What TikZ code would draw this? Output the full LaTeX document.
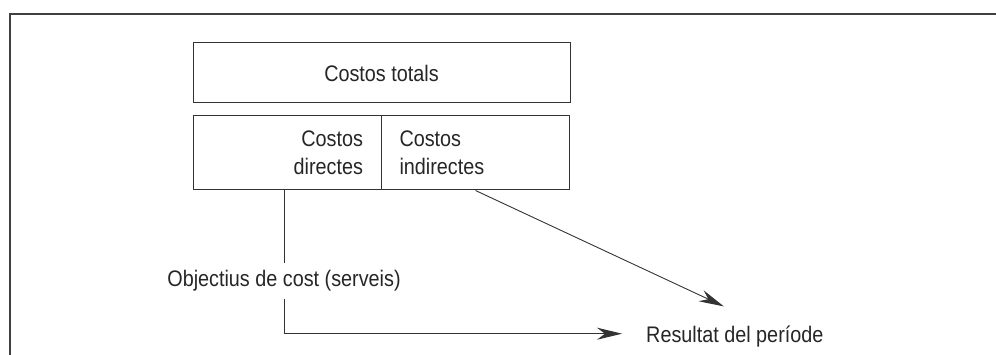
\documentclass[tikz,border=0pt]{standalone}
\usepackage{fontspec}
\setmainfont{Liberation Sans}[FakeStretch=0.88]
\usepackage{tikz}
\usetikzlibrary{positioning}
\usetikzlibrary{arrows.meta}

\begin{document}
\begin{tikzpicture}[x=1pt, y=-1pt, font=\fontsize{22.5}{28}\selectfont, text=black!85,
	box/.style={draw=black!80, line width=1pt, minimum height=74pt, text width=152pt, inner xsep=18pt},
	arr/.style={draw=black!80, line width=0.9pt, -{Stealth[length=25pt,width=12pt,inset=8pt]}}]
			\useasboundingbox (0,0) rectangle (996,355);

			% frame
			\draw[line width=1.5pt, black!75] (10,355) -- (10,14) -- (996,14);

			\node[draw=black!80, line width=1pt, minimum width=377pt, minimum height=60pt] (total) at (381.5,73) {Costos totals};

			\node[box, align=right] (directes) at (287,153) {Costos\\directes};
			\node[box, align=left] (indirectes) at (475.5,153) {Costos\\indirectes};

			\node[inner xsep=0pt, inner ysep=7pt] (objectius) at (284,281) {Objectius de cost (serveis)};
			\node[anchor=west, inner xsep=0pt, inner ysep=3pt] (resultat) at (646,336.2) {Resultat del període};

			\path[draw=black!80, line width=0.9pt] (objectius.north) -- (objectius.north |- directes.south);
			\path[arr, shorten >=24pt] (objectius.south) |- ([yshift=2.5pt]resultat.west);
			\path[arr] (indirectes.south) -- ([xshift=-11pt,yshift=16pt]resultat.north);
\end{tikzpicture}
\end{document}
